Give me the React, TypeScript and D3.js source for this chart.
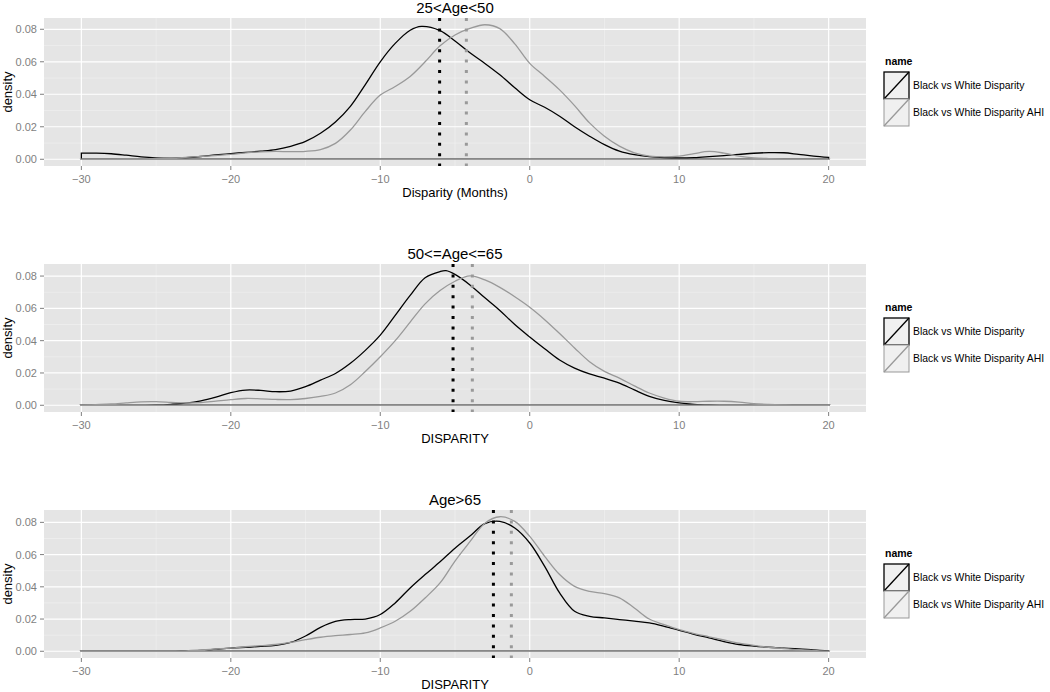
import React, { useEffect, useRef } from 'react';
import * as d3 from 'd3';

// categories / labels
const panelTitles = ["25<Age<50", "50<=Age<=65", "Age>65"];
const xAxisTitles = ["Disparity (Months)", "DISPARITY", "DISPARITY"];
const seriesNames = ["Black vs White Disparity", "Black vs White Disparity AHI"];
const xTicks = [-30, -20, -10, 0, 10, 20];
const xMinor = [-25, -15, -5, 5, 15];
const yTicks = [0, 0.02, 0.04, 0.06, 0.08];
const yMinor = [0.01, 0.03, 0.05, 0.07];

// mean lines (black series, AHI series) per panel
const meanBlack = [-6.03, -5.13, -2.43];
const meanAhi = [-4.24, -3.84, -1.23];

// density estimates: [disparity, density]
const young = [
  [-30, 0.0038], [-29, 0.0038], [-28, 0.0034], [-27, 0.0025], [-26, 0.0015], [-25, 0.0009], [-24, 0.0007],
  [-23, 0.001], [-22, 0.0017], [-21, 0.0027], [-20, 0.0035], [-19, 0.0042], [-18, 0.005], [-17, 0.006],
  [-16, 0.008], [-15, 0.011], [-14, 0.016], [-13, 0.023], [-12, 0.0326], [-11, 0.046], [-10, 0.06],
  [-9, 0.0713], [-8, 0.0794], [-7.25, 0.0818], [-6, 0.0792], [-5, 0.0728], [-4, 0.0655], [-3, 0.059],
  [-2, 0.052], [-1, 0.044], [0, 0.0366], [1, 0.032], [2, 0.0265], [3, 0.02], [4, 0.0142], [5, 0.009],
  [6, 0.005], [7, 0.0028], [8, 0.0016], [9, 0.001], [10, 0.0008], [11, 0.001], [12, 0.0016], [13, 0.0023],
  [14, 0.003], [15, 0.0037], [16, 0.0041], [17, 0.004], [18, 0.003], [19, 0.002], [20, 0.0012]
];
const youngAhi = [
  [-30, 0], [-28, 0.0001], [-26, 0.0003], [-24, 0.0008], [-22, 0.0018], [-20, 0.003], [-19, 0.004],
  [-18, 0.0046], [-17, 0.0048], [-16, 0.0047], [-15, 0.0049], [-14, 0.006], [-13, 0.0098], [-12, 0.018],
  [-11, 0.0295], [-10, 0.0395], [-9, 0.0448], [-8, 0.051], [-7, 0.06], [-6, 0.0698], [-5, 0.0765],
  [-4, 0.0805], [-3, 0.0828], [-2, 0.0804], [-1, 0.071], [0, 0.059], [1, 0.051], [2, 0.0427], [3, 0.033],
  [4, 0.0224], [5, 0.0142], [6, 0.0081], [7, 0.004], [8, 0.002], [9, 0.0015], [10, 0.002], [11, 0.0035],
  [12, 0.0048], [13, 0.0038], [14, 0.002], [15, 0.0009], [16, 0.0004], [17, 0.0001], [18, 0], [20, 0]
];
const middle = [
  [-30, 0], [-28, 0], [-26, 0.0001], [-25, 0.0002], [-24, 0.0006], [-23, 0.0013], [-22, 0.0027],
  [-21, 0.005], [-20, 0.0078], [-19, 0.0094], [-18, 0.0092], [-17, 0.0084], [-16, 0.0088], [-15, 0.0115],
  [-14, 0.0156], [-13, 0.0197], [-12, 0.026], [-11, 0.034], [-10, 0.0434], [-9, 0.0556], [-8, 0.068],
  [-7, 0.079], [-6, 0.0828], [-5.6, 0.0833], [-5, 0.081], [-4, 0.0745], [-3, 0.0665], [-2, 0.0587],
  [-1, 0.05], [0, 0.0423], [1, 0.035], [2, 0.028], [3, 0.023], [4, 0.0194], [5, 0.0168], [6, 0.0137],
  [7, 0.0095], [8, 0.0055], [9, 0.003], [10, 0.0015], [11, 0.0006], [12, 0.0002], [14, 0], [20, 0]
];
const middleAhi = [
  [-30, 0], [-28, 0.0008], [-27, 0.0015], [-26, 0.0021], [-25, 0.0022], [-24, 0.0018], [-23, 0.0014],
  [-22, 0.0017], [-21, 0.0026], [-20, 0.0035], [-19, 0.0042], [-18, 0.004], [-17, 0.0036], [-16, 0.0035],
  [-15, 0.0042], [-14, 0.0055], [-13, 0.0076], [-12, 0.0127], [-11, 0.0209], [-10, 0.03], [-9, 0.04],
  [-8, 0.0515], [-7, 0.0628], [-6, 0.071], [-5, 0.0768], [-4, 0.0801], [-3, 0.0776], [-2, 0.073],
  [-1, 0.0672], [0, 0.0607], [1, 0.053], [2, 0.0444], [3, 0.0355], [4, 0.027], [5, 0.021], [6, 0.0168],
  [7, 0.012], [8, 0.0076], [9, 0.0045], [10, 0.0025], [11, 0.0022], [12, 0.0025], [13, 0.0025],
  [14, 0.002], [15, 0.001], [16, 0.0005], [17, 0.0002], [18, 0], [20, 0]
];
const old = [
  [-30, 0], [-25, 0], [-23, 0.0002], [-22, 0.0006], [-21, 0.0013], [-20, 0.002], [-19, 0.0025],
  [-18, 0.003], [-17, 0.0037], [-16, 0.0055], [-15, 0.0095], [-14, 0.0148], [-13, 0.0185], [-12, 0.0197],
  [-11, 0.02], [-10, 0.0228], [-9, 0.03], [-8, 0.0393], [-7, 0.0476], [-6, 0.0555], [-5, 0.064],
  [-4, 0.0715], [-3, 0.0792], [-2, 0.0806], [-1, 0.0765], [0, 0.0672], [1, 0.0527], [2, 0.0362],
  [3, 0.0248], [4, 0.0217], [5, 0.0207], [6, 0.0197], [7, 0.0187], [8, 0.0176], [9, 0.0155], [10, 0.013],
  [11, 0.0105], [12, 0.0083], [13, 0.006], [14, 0.0042], [15, 0.0032], [16, 0.0025], [17, 0.002],
  [18, 0.0015], [19, 0.0008], [20, 0.0002]
];
const oldAhi = [
  [-30, 0], [-25, 0], [-23, 0.0003], [-22, 0.0008], [-21, 0.0014], [-20, 0.002], [-19, 0.0028],
  [-18, 0.0035], [-17, 0.0042], [-16, 0.0055], [-15, 0.0072], [-14, 0.0087], [-13, 0.0097], [-12, 0.0104],
  [-11, 0.0114], [-10, 0.0145], [-9, 0.0186], [-8, 0.0248], [-7, 0.0331], [-6, 0.0424], [-5, 0.056],
  [-4, 0.068], [-3, 0.0795], [-2, 0.0835], [-1, 0.0806], [0, 0.0713], [1, 0.0589], [2, 0.0476],
  [3, 0.0403], [4, 0.0372], [5, 0.0358], [6, 0.0331], [7, 0.0269], [8, 0.02], [9, 0.0165], [10, 0.0134],
  [11, 0.011], [12, 0.009], [13, 0.007], [14, 0.005], [15, 0.0036], [16, 0.0025], [17, 0.0017],
  [18, 0.001], [19, 0.0005], [20, 0]
];

const panelSeries = [[young, youngAhi], [middle, middleAhi], [old, oldAhi]];
const colors = ["#000000", "#999999"];

const App = () => {
  const svgRef = useRef<SVGSVGElement | null>(null);

  useEffect(() => {
    if (!svgRef.current) return;
    const root = d3.select(svgRef.current);
    root.selectAll("*").remove();

    const W = 1050, H = 692;
    root.attr("width", W).attr("height", H)
      .style("font-family", "'Liberation Sans', Arial, sans-serif");

    const left = 44, right = 866;
    const tops = [18, 264, 510];
    const ph = 148;

    const x = d3.scaleLinear().domain([-32.5, 22.5]).range([left, right]);

    panelSeries.forEach((series, i) => {
      const top = tops[i];
      const ymax = d3.max(series.flat(), d => d[1]) as number;
      const y = d3.scaleLinear().domain([-0.05 * ymax, 1.05 * ymax]).range([top + ph, top]);
      const g = root.append("g");

      // panel background + grid
      g.append("rect").attr("x", left).attr("y", top).attr("width", right - left).attr("height", ph)
        .attr("fill", "#e5e5e5");
      g.selectAll(".xminor").data(xMinor).join("line")
        .attr("x1", d => x(d)).attr("x2", d => x(d)).attr("y1", top).attr("y2", top + ph)
        .attr("stroke", "#f2f2f2").attr("stroke-width", 0.6);
      g.selectAll(".yminor").data(yMinor).join("line")
        .attr("x1", left).attr("x2", right).attr("y1", d => y(d)).attr("y2", d => y(d))
        .attr("stroke", "#f2f2f2").attr("stroke-width", 0.6);
      g.selectAll(".xmajor").data(xTicks).join("line")
        .attr("x1", d => x(d)).attr("x2", d => x(d)).attr("y1", top).attr("y2", top + ph)
        .attr("stroke", "#ffffff").attr("stroke-width", 1.2);
      g.selectAll(".ymajor").data(yTicks).join("line")
        .attr("x1", left).attr("x2", right).attr("y1", d => y(d)).attr("y2", d => y(d))
        .attr("stroke", "#ffffff").attr("stroke-width", 1.2);

      // density outlines (closed polygons, no fill)
      const line = d3.line<number[]>().x(d => x(d[0])).y(d => y(d[1])).curve(d3.curveCatmullRom.alpha(0.5));
      series.forEach((pts, k) => {
        const first = pts[0], last = pts[pts.length - 1];
        const curve = (line(pts) as string).replace(/^M/, "L");
        const path = `M${x(first[0])},${y(0)}${curve}L${x(last[0])},${y(0)}Z`;
        g.append("path").attr("d", path).attr("fill", "none")
          .attr("stroke", colors[k]).attr("stroke-width", 1.3);
      });

      // mean lines
      [meanBlack[i], meanAhi[i]].forEach((m, k) => {
        g.append("line").attr("x1", x(m)).attr("x2", x(m)).attr("y1", top).attr("y2", top + ph)
          .attr("stroke", colors[k]).attr("stroke-width", 3).attr("stroke-dasharray", "3,7.4");
      });

      // axes
      g.selectAll(".xt").data(xTicks).join("line")
        .attr("x1", d => x(d)).attr("x2", d => x(d)).attr("y1", top + ph).attr("y2", top + ph + 4)
        .attr("stroke", "#7f7f7f");
      g.selectAll(".xl").data(xTicks).join("text")
        .attr("x", d => x(d)).attr("y", top + ph + 17).attr("text-anchor", "middle")
        .attr("font-size", 11).attr("fill", "#7f7f7f")
        .text(d => (d < 0 ? "\u2212" + Math.abs(d) : String(d)));
      g.selectAll(".yt").data(yTicks).join("line")
        .attr("x1", left - 4).attr("x2", left).attr("y1", d => y(d)).attr("y2", d => y(d))
        .attr("stroke", "#7f7f7f");
      g.selectAll(".yl").data(yTicks).join("text")
        .attr("x", left - 7).attr("y", d => y(d) + 4).attr("text-anchor", "end")
        .attr("font-size", 11).attr("fill", "#7f7f7f")
        .text(d => d3.format(".2f")(d));

      // titles
      g.append("text").attr("x", (left + right) / 2).attr("y", top - 5).attr("text-anchor", "middle")
        .attr("font-size", 15).text(panelTitles[i]);
      g.append("text").attr("x", (left + right) / 2).attr("y", top + ph + 31).attr("text-anchor", "middle")
        .attr("font-size", 13).text(xAxisTitles[i]);
      g.append("text").attr("transform", `translate(12,${top + ph / 2}) rotate(-90)`)
        .attr("text-anchor", "middle").attr("font-size", 13).text("density");

      // legend
      const cy = top + ph / 2;
      const lg = g.append("g").attr("transform", `translate(884,${cy})`);
      lg.append("text").attr("x", 1).attr("y", -27).attr("font-size", 10.5).attr("font-weight", "bold")
        .text("name");
      seriesNames.forEach((name, k) => {
        const ky = -20 + k * 27;
        lg.append("rect").attr("x", 0).attr("y", ky).attr("width", 25).attr("height", 27)
          .attr("fill", "#f0f0f0").attr("stroke", colors[k]).attr("stroke-width", k === 0 ? 1.3 : 1);
        lg.append("line").attr("x1", 0).attr("y1", ky + 27).attr("x2", 25).attr("y2", ky)
          .attr("stroke", colors[k]).attr("stroke-width", 1.3);
        lg.append("text").attr("x", 29).attr("y", ky + 17).attr("font-size", 10.4).text(name);
      });
    });
  }, []);

  return (
    <div style={{ position: 'absolute', left: 0, top: 0 }}>
      <svg ref={svgRef} style={{ display: 'block' }}></svg>
    </div>
  );
};

export default App;
